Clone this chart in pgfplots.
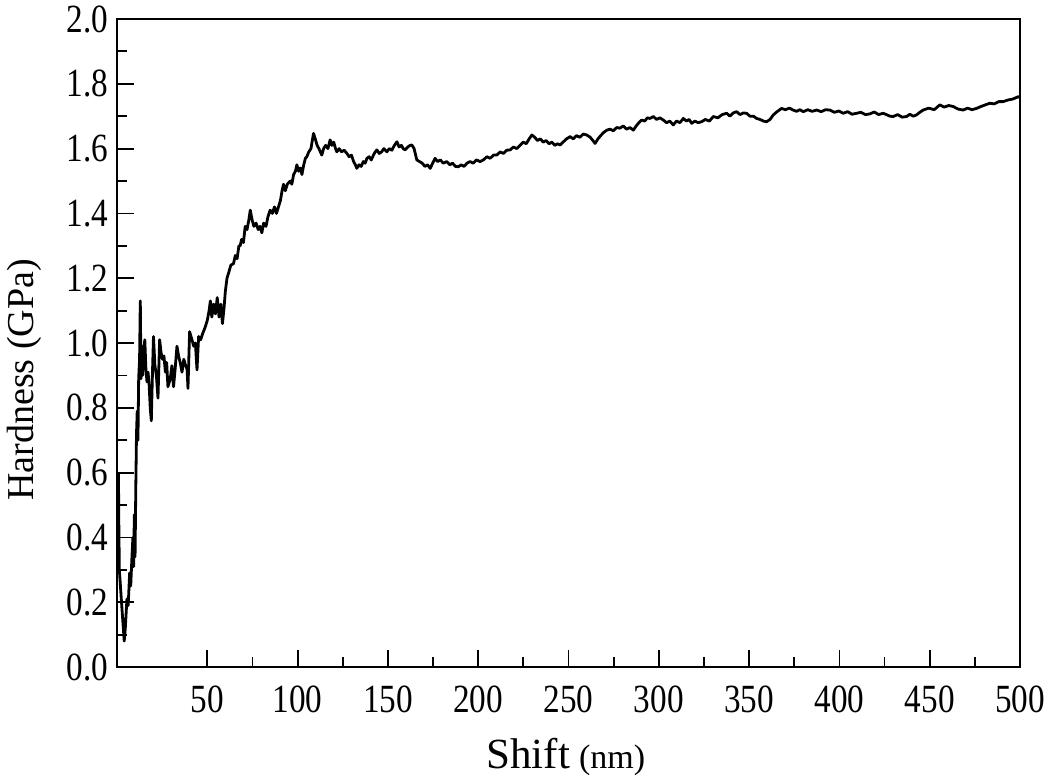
\documentclass[border=0pt]{standalone}
\usepackage{fontspec}
\setmainfont{Liberation Serif}
\newfontfamily\tickfont[FakeStretch=0.83]{Liberation Serif}
\usepackage{pgfplots}
\pgfplotsset{compat=1.18}
\begin{document}
\begin{tikzpicture}
\begin{axis}[
  at={(58.5pt,58pt)}, anchor=south west,
  scale only axis, width=451.5pt, height=324pt,
  xmin=0, xmax=500, ymin=0, ymax=2.0,
  xtick={50,100,...,500}, ytick={0,0.2,...,2.01},
  minor x tick num=1, minor y tick num=1,
  xtick pos=bottom, ytick pos=left, tick align=inside,
  major tick length=8.5pt, minor tick length=5pt,
  every tick/.style={black, line width=0.9pt},
  axis line style={black, line width=1pt},
  /pgf/number format/assume math mode=true,
  yticklabel style={/pgf/number format/fixed, /pgf/number format/fixed zerofill, /pgf/number format/precision=1, font=\tickfont\fontsize{20}{24}\selectfont, xshift=-1pt},
  xticklabel style={font=\tickfont\fontsize{20}{24}\selectfont, yshift=-6pt},
  ylabel={Hardness (GPa)},
  ylabel style={at={(rel axis cs:-0.103,0.443)}, anchor=center, font=\fontsize{19}{22}\selectfont},
  xlabel={{\fontsize{21.5}{24}\selectfont Shift}\hspace{4.5pt}{\fontsize{17}{20}\selectfont (nm)}},
  xlabel style={at={(rel axis cs:0.497,-0.139)}, anchor=center},
  clip=false,
]
\addplot[black, line width=1.4pt, line join=round] table {
x y
0.8 0.60
1.0 0.45
1.3 0.30
2.5 0.20
4.0 0.08
4.6 0.12
5.5 0.21
6.2 0.19
7.0 0.29
7.6 0.25
8.2 0.33
8.8 0.40
9.2 0.31
9.6 0.47
10.0 0.34
10.4 0.55
10.8 0.72
11.2 0.79
11.6 0.70
12.0 0.89
12.5 0.95
12.9 1.13
13.3 0.89
13.8 0.99
14.2 0.90
14.7 0.97
15.4 1.01
16.0 0.92
16.6 0.88
17.2 0.91
17.8 0.87
18.4 0.80
19.0 0.76
19.6 0.90
20.2 1.02
21.0 0.93
21.8 0.90
22.7 0.83
23.6 1.01
24.4 0.97
25.2 0.95
26.0 0.96
26.8 0.91
27.5 0.94
28.2 0.865
29.5 0.89
30.4 0.93
31.3 0.865
32.2 0.92
33.2 0.99
34.1 0.96
35.0 0.94
36.0 0.91
37.0 0.95
38.0 0.93
38.8 0.92
39.3 0.86
40.2 1.035
41.5 1.01
42.5 0.99
43.4 1.00
44.3 0.917
45.2 1.02
46.3 1.01
47.5 1.03
48.9 1.05
50.0 1.07
51.0 1.10
51.7 1.13
52.5 1.08
53.5 1.12
54.5 1.09
55.5 1.14
56.5 1.08
57.5 1.12
58.4 1.06
59.3 1.11
60.0 1.16
60.9 1.20
62.0 1.22
63.0 1.24
64.5 1.245
65.5 1.27
66.5 1.26
67.5 1.30
68.2 1.30
69.0 1.32
70.0 1.31
71.0 1.36
72.0 1.35
73.0 1.38
73.8 1.41
74.8 1.38
75.8 1.36
77.0 1.37
78.2 1.35
79.2 1.36
80.2 1.34
81.2 1.37
82.5 1.36
83.6 1.39
84.8 1.41
86.0 1.40
87.2 1.42
88.3 1.40
89.4 1.42
90.5 1.44
91.4 1.47
92.2 1.49
93.2 1.47
94.3 1.49
95.9 1.50
96.8 1.49
97.8 1.52
98.8 1.53
99.6 1.55
100.6 1.53
101.6 1.54
102.4 1.52
103.4 1.55
104.3 1.57
105.1 1.575
106.2 1.59
107.4 1.60
108.8 1.647
109.8 1.63
110.8 1.61
111.8 1.60
112.6 1.59
113.4 1.58
114.4 1.60
115.5 1.61
116.8 1.60
118.0 1.627
119.0 1.61
120.0 1.62
121.0 1.60
121.7 1.59
123.0 1.60
124.3 1.59
125.8 1.595
127.3 1.585
128.5 1.575
129.8 1.58
131.0 1.56
132.0 1.55
132.8 1.539
134.0 1.55
135.2 1.545
136.4 1.56
137.4 1.555
138.4 1.57
139.6 1.575
140.8 1.565
142.0 1.58
143.0 1.59
143.9 1.596
145.2 1.585
146.5 1.59
147.8 1.60
149.4 1.59
150.8 1.60
152.2 1.595
153.6 1.61
155.0 1.621
156.2 1.605
157.5 1.61
158.5 1.60
159.5 1.596
161.0 1.605
162.3 1.61
163.3 1.611
164.5 1.60
166.0 1.565
167.5 1.56
169.0 1.555
170.5 1.545
172.0 1.55
173.4 1.539
174.8 1.555
176.1 1.57
177.5 1.56
179.0 1.565
180.7 1.555
182.6 1.56
184.3 1.55
185.8 1.555
187.4 1.545
189.0 1.544
190.6 1.55
192.2 1.545
193.8 1.555
195.5 1.56
197.2 1.555
199.0 1.565
201.0 1.56
202.9 1.565
204.8 1.575
206.6 1.57
208.5 1.58
210.3 1.58
212.2 1.59
214.0 1.585
215.8 1.595
217.7 1.596
219.5 1.605
221.3 1.60
223.2 1.61
225.0 1.62
226.6 1.615
228.2 1.63
229.7 1.642
231.3 1.635
232.8 1.625
234.4 1.63
236.0 1.62
237.6 1.625
239.2 1.615
240.8 1.62
242.4 1.61
243.9 1.615
245.3 1.611
247.0 1.62
248.9 1.63
250.9 1.637
252.6 1.63
254.4 1.64
256.3 1.635
258.2 1.645
260.1 1.642
262.0 1.635
263.5 1.625
264.7 1.616
266.3 1.63
267.8 1.64
269.5 1.65
271.2 1.657
273.0 1.66
274.8 1.655
276.7 1.665
278.5 1.663
280.3 1.67
282.2 1.66
284.0 1.665
285.9 1.657
287.5 1.67
289.0 1.68
290.5 1.688
292.2 1.685
293.7 1.695
295.1 1.693
297.0 1.699
298.8 1.69
300.6 1.695
302.5 1.688
304.3 1.68
306.1 1.685
308.0 1.673
309.8 1.685
311.7 1.68
313.6 1.693
315.3 1.685
316.8 1.69
318.2 1.678
320.0 1.685
321.8 1.68
323.7 1.683
325.8 1.69
328.0 1.685
330.2 1.699
332.7 1.695
335.1 1.705
337.6 1.709
339.4 1.70
341.2 1.71
343.1 1.714
344.9 1.705
346.8 1.71
348.6 1.709
350.5 1.70
352.4 1.70
354.2 1.693
356.0 1.69
357.9 1.685
359.7 1.683
361.6 1.69
363.4 1.704
365.7 1.715
368.0 1.724
370.1 1.72
372.3 1.725
374.4 1.719
376.3 1.715
378.1 1.72
380.0 1.714
382.5 1.72
384.9 1.715
387.4 1.719
389.9 1.714
392.3 1.72
394.7 1.719
397.2 1.712
399.6 1.716
402.1 1.709
404.6 1.714
407.0 1.706
409.5 1.709
411.9 1.712
414.4 1.705
416.8 1.707
419.3 1.713
421.7 1.705
424.2 1.709
426.0 1.705
428.0 1.70
429.8 1.699
432.3 1.705
434.7 1.697
437.2 1.699
439.0 1.706
440.9 1.70
442.7 1.704
444.5 1.712
446.4 1.719
449.5 1.725
452.5 1.72
455.6 1.735
458.0 1.728
460.5 1.733
463.0 1.730
465.7 1.722
468.5 1.719
471.0 1.725
473.4 1.72
475.9 1.724
478.4 1.73
480.8 1.735
483.3 1.740
485.7 1.738
488.2 1.745
490.6 1.745
493.4 1.75
496.0 1.753
499.0 1.760
500.0 1.758
};
\end{axis}
\pgfresetboundingbox
\path (0,0) rectangle (522.5pt,391.5pt);
\end{tikzpicture}
\end{document}
